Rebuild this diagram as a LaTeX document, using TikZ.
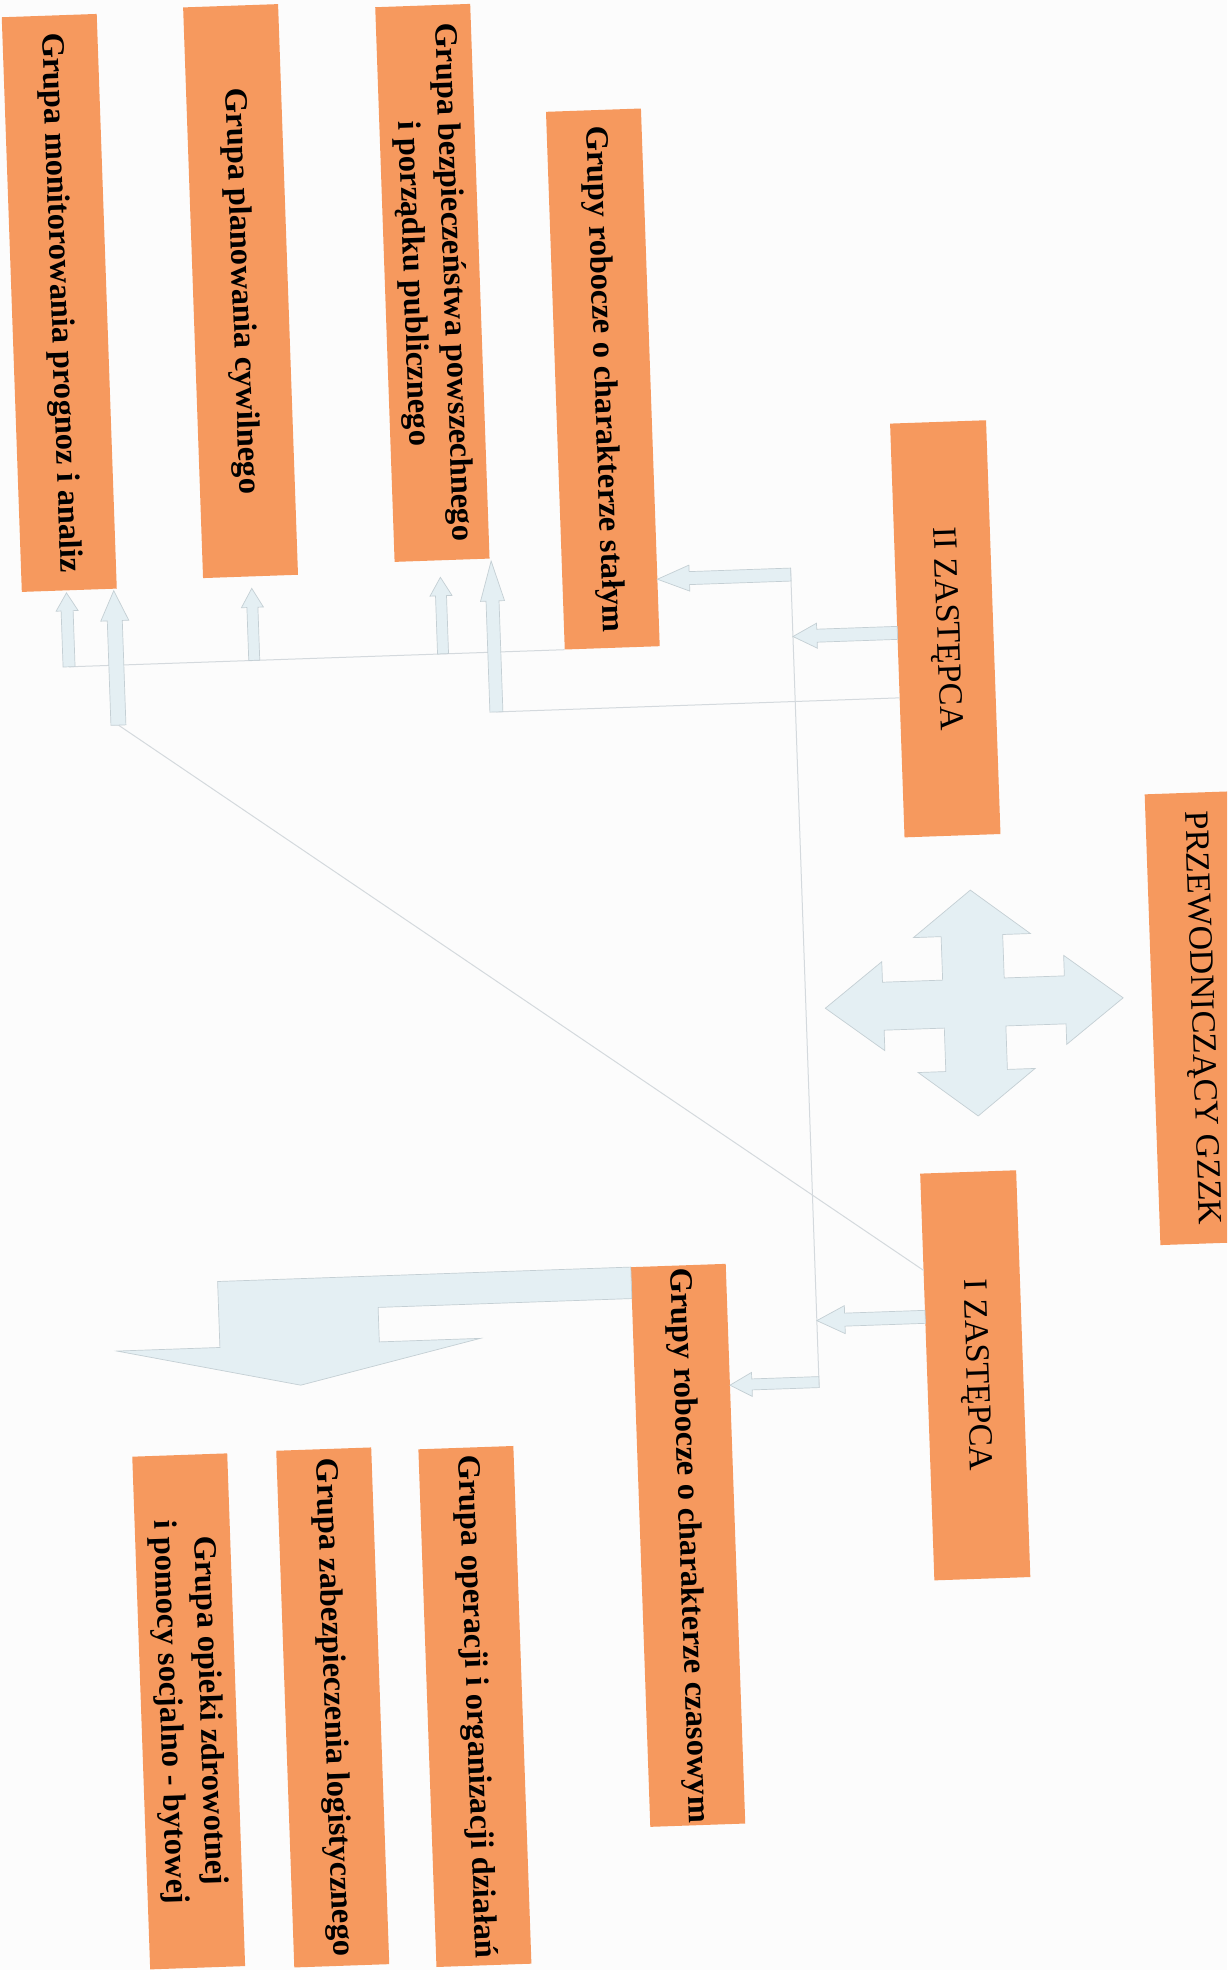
\documentclass[tikz,border=0pt]{standalone}
\usepackage{fontspec}
\setmainfont{Liberation Serif}
\usepackage{graphicx}
\definecolor{boxorange}{RGB}{246,153,94}
\definecolor{arrowfill}{RGB}{228,239,243}
\definecolor{arrowline}{RGB}{196,207,212}
\definecolor{linkgray}{RGB}{212,217,221}
\definecolor{paper}{RGB}{252,252,252}
\tikzset{
  grpbox/.style={fill=boxorange, minimum width=95pt, inner sep=0pt, text=black,
    font=\fontsize{32.5}{40}\selectfont\bfseries},
  headbox/.style={fill=boxorange, minimum width=96pt, inner sep=0pt, text=black,
    font=\fontsize{34}{40}\selectfont},
  blockarrow/.style={fill=arrowfill, draw=arrowline, line width=0.7pt, line join=miter},
  linkline/.style={draw=linkgray, line width=1pt},
}
% up block arrow: x, y tail, y tip, half shaft, half head, head length
\newcommand\blkup[6]{\path[blockarrow] ({#1-#4},#2) -- ({#1-#4},{#3+#6}) -- ({#1-#5},{#3+#6}) -- (#1,#3) -- ({#1+#5},{#3+#6}) -- ({#1+#4},{#3+#6}) -- ({#1+#4},#2) -- cycle;}
% left block arrow: x tail, x tip, y, half shaft, half head, head length
\newcommand\blkleft[6]{\path[blockarrow] (#1,{#3-#4}) -- ({#2+#6},{#3-#4}) -- ({#2+#6},{#3-#5}) -- (#2,#3) -- ({#2+#6},{#3+#5}) -- ({#2+#6},{#3+#4}) -- (#1,{#3+#4}) -- cycle;}
\begin{document}
\begin{tikzpicture}[x=1pt,y=-1pt]
\useasboundingbox (0,0) rectangle (1227,1970);
\fill[paper] (0,0) rectangle (1227,1970);
\clip (0,0) rectangle (1227,1970);
\begin{scope}[rotate around={2:(613.5,985)}, transform shape]
  % boxes
  \node[grpbox, minimum height=575pt] (b1) at (83.4,284) {\rotatebox{-90}{Grupa monitorowania prognoz i analiz}};
  \node[grpbox, minimum height=571pt] (b2) at (265,278.5) {\rotatebox{-90}{Grupa planowania cywilnego}};
  \node[grpbox, minimum height=555pt] (b3) at (457,277) {\rotatebox{-90}{\begin{tabular}{@{}c@{}}Grupa bezpieczeństwa powszechnego\\ i porządku publicznego\end{tabular}}};
  \node[grpbox, minimum height=538pt] (b4) at (624,379) {\rotatebox{-90}{Grupy robocze o charakterze stałym}};
  \node[headbox, minimum height=414pt] (b5) at (957.5,640.6) {\rotatebox{-90}{II ZASTĘPCA}};
  \node[headbox, minimum height=451pt] (b6) at (1199,1038.5) {\rotatebox{-90}{PRZEWODNICZĄCY GZZK}};
  \node[headbox, minimum height=407pt] (b7) at (961.4,1387.7) {\rotatebox{-90}{I ZASTĘPCA}};
  \node[grpbox, minimum height=560pt] (b8) at (668.4,1547.6) {\rotatebox{-90}{Grupy robocze o charakterze czasowym}};
  \node[grpbox, minimum height=518pt] (b9) at (449.8,1701.2) {\rotatebox{-90}{Grupa operacji i organizacji działań}};
  \node[grpbox, minimum height=517pt] (b10) at (307.7,1697.2) {\rotatebox{-90}{Grupa zabezpieczenia logistycznego}};
  \node[grpbox, minimum height=513pt] (b11) at (163.6,1696.1) {\rotatebox{-90}{\begin{tabular}{@{}c@{}}Grupa opieki zdrowotnej\\ i pomocy socjalno - bytowej\end{tabular}}};
  % connector end points
  \coordinate (a1t) at (80.5,648);
  \coordinate (a2t) at (127.8,708);
  \coordinate (a5t) at (506,708);
  \coordinate (l2e) at (909.5,708);
  \coordinate (dI) at (913.4,1281);
  \coordinate (vtop) at (805,574.5);
  \coordinate (vbot) at (805,1394.5);
  % thin connector lines
  \draw[linkline] (a1t) -- (b4.south west);
  \draw[linkline] (a5t) -- (l2e);
  \draw[linkline] (a2t) -- (dI);
  \draw[linkline] (vtop) -- (vbot);
  % up block arrows into the permanent groups
  \blkup{80.5}{648}{574}{6}{11}{18}
  \blkup{127.8}{708}{573.5}{7.5}{14}{30}
  \blkup{265.8}{648}{576}{5.5}{11}{19}
  \blkup{454.7}{648}{571.5}{5.5}{11}{18.5}
  \blkup{506}{708}{557}{6.5}{12}{40}
  % left block arrows
  \blkleft{805}{671.5}{581}{6.5}{13}{32}
  \blkleft{909.5}{805}{643}{6.5}{12.5}{24}
  \blkleft{913.4}{805}{1327.5}{6.5}{14}{28}
  \blkleft{805}{715.9}{1389}{5.5}{12}{22}
  % bent arrow from the temporary groups
  \path[blockarrow] (620.9,1267.5) -- (207.5,1267.5) -- (207.5,1333.5) -- (104.5,1333.5) -- (287,1374) -- (468,1333.5) -- (367,1333.5) -- (367,1299) -- (620.9,1299) -- cycle;
  % four-way arrow
  \path[blockarrow, shift={(973.4,1015.6)}] (149,0) -- (91,-44.5) -- (91,-24) -- (30.8,-24) -- (30.8,-67.5) -- (58.5,-67.5) -- (0,-113) -- (-58.5,-67.5) -- (-30.8,-67.5) -- (-30.8,-24) -- (-91,-24) -- (-91,-44.5) -- (-149,0) -- (-91,44.5) -- (-91,24) -- (-30.8,24) -- (-30.8,67.5) -- (-58.5,67.5) -- (0,113) -- (58.5,67.5) -- (30.8,67.5) -- (30.8,24) -- (91,24) -- (91,44.5) -- cycle;
\end{scope}
\end{tikzpicture}
\end{document}
